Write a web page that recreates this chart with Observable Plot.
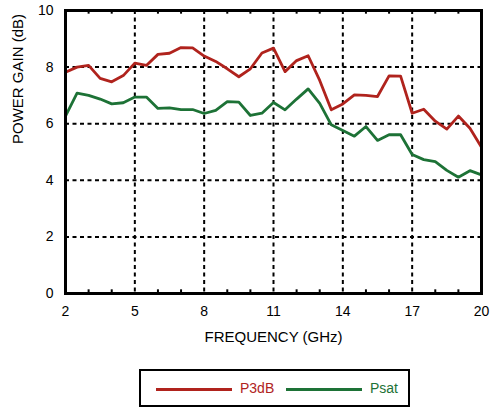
<!DOCTYPE html>
<html>
<head>
<meta charset="utf-8">
<script src="https://cdn.jsdelivr.net/npm/d3@7"></script>
<script src="https://cdn.jsdelivr.net/npm/@observablehq/plot@0.6"></script>
<style>
  body { margin: 0; background: white; }
  #wrap { position: relative; width: 490px; height: 408px; font-family: "Liberation Sans", Arial, sans-serif; }
  #legend { position: absolute; left: 139px; top: 369px; width: 271px; height: 38px; box-sizing: border-box; border: 2.5px solid black; background: white; }
  .lline { position: absolute; height: 3px; top: 17px; }
  .ltext { position: absolute; top: 9px; font-size: 14px; line-height: 16px; }
</style>
</head>
<body>
<div id="wrap"></div>
<script>
const freq = [2,2.5,3,3.5,4,4.5,5,5.5,6,6.5,7,7.5,8,8.5,9,9.5,10,10.5,11,11.5,12,12.5,13,13.5,14,14.5,15,15.5,16,16.5,17,17.5,18,18.5,19,19.5,20];
const p3db = [7.82,8.0,8.06,7.6,7.48,7.7,8.14,8.06,8.45,8.49,8.69,8.68,8.39,8.2,7.94,7.66,7.94,8.5,8.67,7.84,8.23,8.4,7.53,6.49,6.7,7.02,7.0,6.96,7.69,7.68,6.37,6.51,6.09,5.81,6.27,5.84,5.17];
const psat = [6.27,7.08,7.0,6.87,6.7,6.74,6.94,6.94,6.54,6.56,6.5,6.5,6.36,6.47,6.78,6.76,6.29,6.37,6.75,6.49,6.87,7.23,6.72,5.96,5.76,5.56,5.9,5.41,5.61,5.61,4.91,4.73,4.66,4.35,4.11,4.34,4.19];
const seriesNames = ["P3dB", "Psat"];
const seriesColors = ["#b0231d", "#1d7236"];
const xTicks = [2,5,8,11,14,17,20];
const xMinor = [3,4,6,7,9,10,12,13,15,16,18,19];
const yTicks = [0,2,4,6,8,10];
const xLabel = "FREQUENCY (GHz)";
const yLabel = "POWER GAIN (dB)";

const rows = [];
freq.forEach((f, i) => {
  rows.push({f, v: p3db[i], s: seriesNames[0]});
  rows.push({f, v: psat[i], s: seriesNames[1]});
});

const chart = Plot.plot({
  width: 490,
  height: 365,
  marginLeft: 65,
  marginRight: 9,
  marginTop: 10,
  marginBottom: 72,
  style: {fontFamily: "Liberation Sans, Arial, sans-serif", fontSize: "14px", background: "white", color: "black"},
  x: {domain: [2, 20]},
  y: {domain: [0, 10]},
  color: {domain: seriesNames, range: seriesColors},
  marks: [
    Plot.gridX(xTicks.slice(1, -1), {stroke: "black", strokeOpacity: 1, strokeWidth: 2, strokeDasharray: "4,3.5"}),
    Plot.gridY(yTicks.slice(1, -1), {stroke: "black", strokeOpacity: 1, strokeWidth: 2, strokeDasharray: "4,3.5"}),
    Plot.ruleX(xMinor, {y1: 0, y2: 0.13, stroke: "black", strokeWidth: 2}),
    Plot.ruleX(xMinor, {y1: 10, y2: 9.87, stroke: "black", strokeWidth: 2}),
    Plot.line(rows, {x: "f", y: "v", z: "s", stroke: "s", strokeWidth: 2.8, strokeLinejoin: "round"}),
    Plot.frame({stroke: "black", strokeWidth: 3}),
    Plot.axisX(xTicks, {tickSize: 0, tickPadding: 13, fontSize: 14, label: null}),
    Plot.axisY(yTicks, {tickSize: 0, tickPadding: 12, fontSize: 14, label: null}),
    Plot.text([xLabel], {frameAnchor: "bottom", dy: 48, fontSize: 15, text: d => d}),
    Plot.text([yLabel], {frameAnchor: "left", rotate: -90, dx: -47, dy: -8, fontSize: 15, text: d => d})
  ]
});
chart.style.position = "absolute";
chart.style.left = "0px";
chart.style.top = "0px";
const wrap = document.getElementById("wrap");
wrap.appendChild(chart);

const legend = document.createElement("div");
legend.id = "legend";
const lx = [[15, 91, 99], [145, 221, 229]];
seriesNames.forEach((name, i) => {
  const l = document.createElement("div");
  l.className = "lline";
  l.style.left = lx[i][0] + "px";
  l.style.width = (lx[i][1] - lx[i][0]) + "px";
  l.style.background = seriesColors[i];
  legend.appendChild(l);
  const t = document.createElement("div");
  t.className = "ltext";
  t.style.left = lx[i][2] + "px";
  t.style.color = seriesColors[i];
  t.textContent = name;
  legend.appendChild(t);
});
wrap.appendChild(legend);
</script>
</body>
</html>
